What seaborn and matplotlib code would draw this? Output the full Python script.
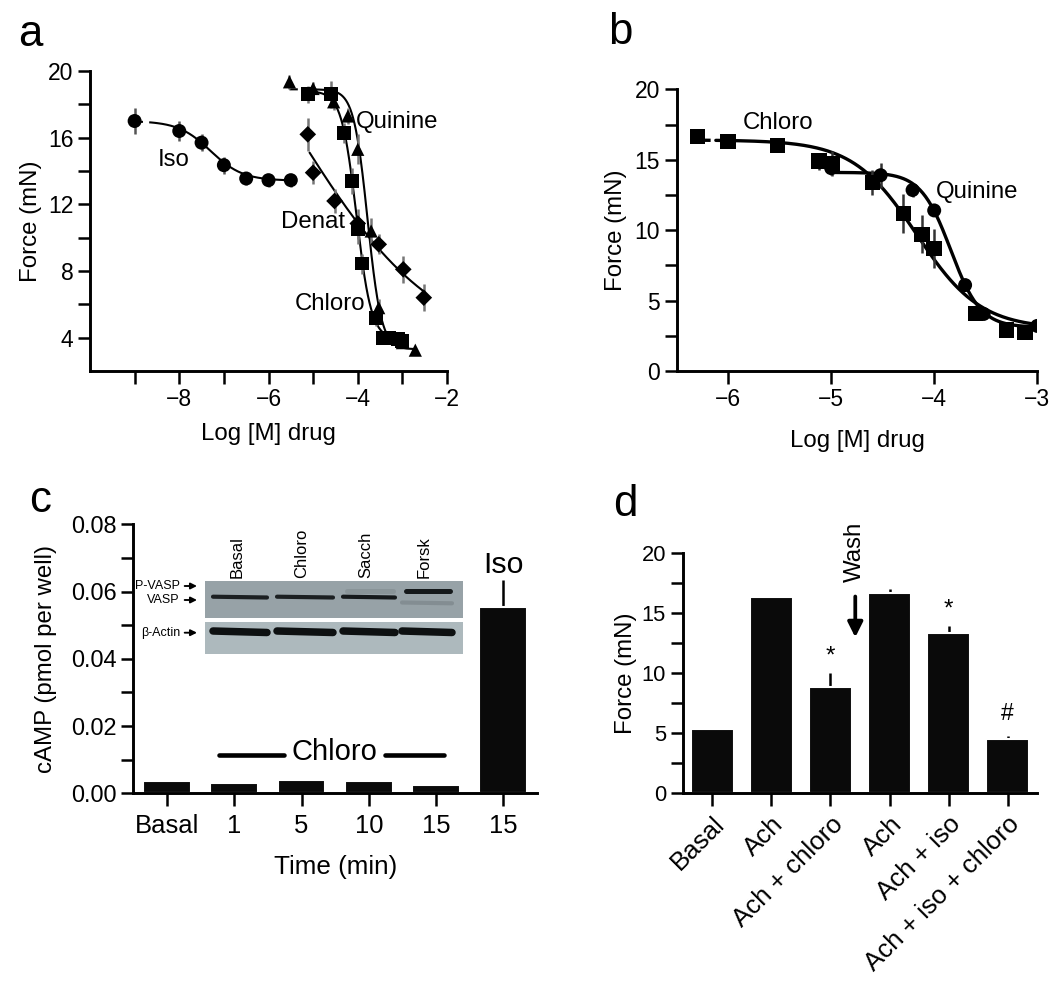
import matplotlib
matplotlib.use('Agg')
import matplotlib.pyplot as plt
import numpy as np
import seaborn as sns
from matplotlib.patches import Rectangle
from matplotlib.ticker import FixedLocator, FormatStrFormatter

# ---- panel a: force vs log concentration ----
iso_x = [-9.0, -8.0, -7.5, -7.0, -6.5, -6.0, -5.5]
iso_y = [17.0, 16.4, 15.7, 14.35, 13.55, 13.45, 13.45]
iso_err = [0.8, 0.6, 0.5, 0.5, 0.4, 0.4, 0.4]
iso_fit = (17.0, 13.42, -7.3, 1.2)          # top, bottom, logEC50, hill

chloro_a_x = [-5.12, -4.6, -4.3, -4.13, -4.0, -3.9, -3.6, -3.43, -3.3, -3.2, -3.1, -3.0]
chloro_a_y = [18.6, 18.6, 16.3, 13.4, 10.5, 8.45, 5.2, 4.0, 4.0, 3.95, 3.9, 3.8]
chloro_a_err = [0.5, 0.8, 0.6, 0.8, 0.9, 0.6, 0.5, 0.4, 0.4, 0.4, 0.4, 0.4]
chloro_a_fit = (18.8, 3.9, -4.03, 2.6)

quinine_a_x = [-5.53, -5.0, -4.54, -4.22, -4.0, -3.7, -3.53, -3.0, -2.71]
quinine_a_y = [19.35, 18.95, 18.15, 17.3, 15.3, 10.4, 5.8, 3.7, 3.25]
quinine_a_err = [0.4, 0.4, 0.5, 0.5, 0.9, 0.8, 0.5, 0.3, 0.2]
quinine_a_fit = (18.9, 3.3, -3.78, 2.8)

denat_x = [-5.12, -5.0, -4.52, -4.0, -3.53, -2.98, -2.52]
denat_y = [16.2, 13.9, 12.2, 10.85, 9.6, 8.1, 6.4]
denat_err = [1.0, 0.7, 0.7, 0.9, 0.6, 0.8, 0.8]
denat_fit = (30.0, 3.0, -5.41, 0.273)

# ---- panel b ----
chloro_b_x = [-6.3, -6.0, -5.52, -5.12, -4.99, -4.6, -4.3, -4.12, -4.0, -3.6, -3.3, -3.12]
chloro_b_y = [16.65, 16.3, 16.0, 14.9, 14.75, 13.4, 11.2, 9.7, 8.7, 4.1, 2.9, 2.75]
chloro_b_err = [0.1, 0.2, 0.2, 0.6, 0.9, 0.9, 1.4, 1.35, 1.4, 0.4, 0.2, 0.2]
chloro_b_fit = (16.4, 3.0, -4.17, 1.4)

quinine_b_x = [-5.0, -4.52, -4.21, -4.0, -3.7, -3.52, -3.0]
quinine_b_y = [14.4, 13.9, 12.85, 11.4, 6.1, 4.05, 3.2]
quinine_b_err = [0.5, 0.9, 0.5, 0.3, 0.3, 0.3, 0.1]
quinine_b_fit = (14.1, 3.1, -3.84, 3.0)

# ---- panel c ----
camp_labels = ['Basal', '1', '5', '10', '15', '15']
camp_values = [0.0036, 0.0031, 0.0040, 0.0037, 0.0025, 0.0555]
camp_err = [0.0, 0.0, 0.0004, 0.0002, 0.0, 0.0079]

blot_lanes = ['Basal', 'Chloro', 'Sacch', 'Forsk']
blot_lane_x = [(213, 267), (277, 333), (343, 395), (402, 452)]
vasp_intensity = [0.95, 0.95, 1.0, 0.15]
pvasp_intensity = [0.0, 0.0, 0.1, 1.0]

# ---- panel d ----
force_labels = ['Basal', 'Ach', 'Ach + chloro', 'Ach', 'Ach + iso', 'Ach + iso + chloro']
force_values = [5.33, 16.33, 8.83, 16.67, 13.36, 4.55]
force_err = [0.05, 0.1, 1.22, 0.38, 0.6, 0.22]
force_marks = {2: '*', 4: '*', 5: '#'}

W, H = 1050, 983
sns.set_style('ticks')
plt.rcParams['font.family'] = ['Liberation Sans', 'DejaVu Sans']
plt.rcParams.update({'axes.linewidth': 1.4, 'axes.edgecolor': 'black',
                     'text.color': 'black', 'axes.labelcolor': 'black',
                     'xtick.color': 'black', 'ytick.color': 'black'})
fig = plt.figure(figsize=(W / 150, H / 150), dpi=150)


def px_axes(left, top, right, bottom):
    return fig.add_axes([left / W, 1 - bottom / H, (right - left) / W, (bottom - top) / H])


def logistic(x, p):
    top, bottom, c, h = p
    return bottom + (top - bottom) / (1 + 10 ** (h * (x - c)))


def style(ax, fs=10.5):
    sns.despine(ax=ax)
    ax.tick_params(which='both', direction='out', length=6, width=1.2,
                   labelsize=fs, pad=2, color='black')


def curve(ax, x0, x1, p, dash_to=None, lw=1.0):
    if dash_to is not None:
        xd = np.linspace(x0, dash_to, 20)
        ax.plot(xd, logistic(xd, p), color='black', lw=lw, ls=(0, (4, 3)))
        x0 = dash_to
    xs = np.linspace(x0, x1, 300)
    ax.plot(xs, logistic(xs, p), color='black', lw=lw)


def points(ax, x, y, err, marker, size, ecolor):
    ax.errorbar(x, y, yerr=err, fmt='none', ecolor=ecolor, elinewidth=1.2, capsize=0, zorder=2)
    sns.scatterplot(x=x, y=y, marker=marker, s=size, color='black', edgecolor='none',
                    ax=ax, zorder=3, legend=False)


# panel a
ax = px_axes(90, 71, 447, 371)
curve(ax, -9.0, -5.5, iso_fit, dash_to=-8.5)
curve(ax, -5.12, -3.0, chloro_a_fit)
curve(ax, -5.53, -2.71, quinine_a_fit, dash_to=-5.12)
curve(ax, -5.08, -2.53, denat_fit)
points(ax, iso_x, iso_y, iso_err, 'o', 45, '#555555')
points(ax, denat_x, denat_y, denat_err, 'D', 32, '#777777')
points(ax, quinine_a_x, quinine_a_y, quinine_a_err, '^', 40, '#777777')
points(ax, chloro_a_x, chloro_a_y, chloro_a_err, 's', 45, '#777777')
ax.set_xlim(-10, -2)
ax.set_ylim(2, 20)
ax.set_xticks([-8, -6, -4, -2])
ax.xaxis.set_minor_locator(FixedLocator([-9, -7, -5, -3]))
ax.set_yticks([4, 8, 12, 16, 20])
ax.yaxis.set_minor_locator(FixedLocator([6, 10, 14, 18]))
style(ax, fs=11)
ax.set_xlabel('Log [M] drug', fontsize=11.5)
ax.set_ylabel('Force (mN)', fontsize=11.5)
ax.xaxis.set_label_coords(0.5, -0.173)
ax.yaxis.set_label_coords(-0.134, 0.5)
for txt, tx, ty in [('Iso', -8.13, 14.67), ('Quinine', -3.11, 16.95),
                    ('Denat', -5.0, 10.96), ('Chloro', -4.61, 5.99)]:
    ax.text(tx, ty, txt, fontsize=11.5, ha='center', va='center')
fig.text(30 / W, 1 - 35 / H, 'a', fontsize=21, ha='center', va='center')

# panel b
ax = px_axes(676.7, 89.3, 1037.2, 371)
curve(ax, -6.3, -3.0, chloro_b_fit, dash_to=-6.12, lw=1.6)
curve(ax, -5.0, -3.0, quinine_b_fit, lw=1.6)
points(ax, quinine_b_x, quinine_b_y, quinine_b_err, 'o', 45, '#333333')
points(ax, chloro_b_x, chloro_b_y, chloro_b_err, 's', 55, '#333333')
ax.set_xlim(-6.5, -3)
ax.set_ylim(0, 20)
ax.set_xticks([-6, -5, -4, -3])
ax.set_yticks([0, 5, 10, 15, 20])
ax.yaxis.set_minor_locator(FixedLocator([2.5, 7.5, 12.5, 17.5]))
style(ax, fs=11)
ax.set_xlabel('Log [M] drug', fontsize=11.5)
ax.set_ylabel('Force (mN)', fontsize=11.5)
ax.xaxis.set_label_coords(0.5, -0.209)
ax.yaxis.set_label_coords(-0.139, 0.5)
ax.text(-5.52, 17.63, 'Chloro', fontsize=11.5, ha='center', va='center')
ax.text(-3.58, 12.73, 'Quinine', fontsize=11.5, ha='center', va='center')
fig.text(620 / W, 1 - 32 / H, 'b', fontsize=21, ha='center', va='center')

# panel c
ax = px_axes(133.3, 524.3, 537, 793.3)
sns.barplot(x=list(range(6)), y=camp_values, color='#0a0a0a', saturation=1,
            width=0.71, errorbar=None, ax=ax, zorder=2)
ax.errorbar(range(6), camp_values, yerr=[[0] * 6, camp_err], fmt='none',
            ecolor='black', elinewidth=1.2, capsize=0, zorder=1)
ax.set_xlim(-0.5, 5.5)
ax.set_ylim(0, 0.08)
ax.set_xticks(range(6))
ax.set_xticklabels(camp_labels)
ax.set_yticks([0, 0.02, 0.04, 0.06, 0.08])
ax.yaxis.set_minor_locator(FixedLocator([0.01, 0.03, 0.05, 0.07]))
ax.yaxis.set_major_formatter(FormatStrFormatter('%.2f'))
style(ax, fs=11.3)
ax.tick_params(axis='x', labelsize=12.3, pad=4)
ax.set_xlabel('Time (min)', fontsize=12.5)
ax.set_ylabel('cAMP (pmol per well)', fontsize=11.5)
ax.xaxis.set_label_coords(0.5, -0.229)
ax.yaxis.set_label_coords(-0.19, 0.5)
ax.plot([0.78, 1.74], [0.0113, 0.0113], color='black', lw=2.2, solid_capstyle='round')
ax.plot([3.24, 4.12], [0.0113, 0.0113], color='black', lw=2.2, solid_capstyle='round')
ax.text(2.49, 0.0124, 'Chloro', fontsize=14, ha='center', va='center')
ax.text(5.0, 0.0679, 'Iso', fontsize=14.5, ha='center', va='center')
fig.text(40 / W, 1 - 500 / H, 'c', fontsize=21, ha='center', va='center')

# western blot inset, drawn in figure pixels
bl = px_axes(150, 560, 470, 660)
bl.set_xlim(150, 470)
bl.set_ylim(660, 560)
bl.axis('off')
bl.add_patch(Rectangle((205, 581), 258, 36.7, color='#97a2a7', lw=0))
bl.add_patch(Rectangle((205, 621.7), 258, 32.6, color='#adb9bd', lw=0))
for name, (x0, x1), vi, pi in zip(blot_lanes, blot_lane_x, vasp_intensity, pvasp_intensity):
    bl.text((x0 + x1) / 2 - 3, 578, name, rotation=90, ha='center', va='bottom', fontsize=8)
    vy = 596.7 if pi < 0.5 else 602.5
    bl.plot([x0, x1], [vy, vy + 0.8], color='#15191b', alpha=vi, lw=2.0, solid_capstyle='round')
    if pi > 0:
        bl.plot([x0 + 4, x1 - 2], [590.5, 590.5], color='#15191b', alpha=pi, lw=2.4,
                solid_capstyle='round')
    bl.plot([x0, x1], [631, 632.5], color='#0d1011', lw=3.6, solid_capstyle='round')
for lab, ly in [('P-VASP', 586), ('VASP', 600), ('β-Actin', 632.7)]:
    bl.annotate(lab, xy=(197, ly), xytext=(180, ly), ha='right', va='center', fontsize=6,
                arrowprops=dict(arrowstyle='-|>', color='black', lw=0.9, shrinkA=0, shrinkB=0,
                                mutation_scale=6))

# panel d
ax = px_axes(682.7, 553.3, 1037.3, 793.3)
sns.barplot(x=list(range(6)), y=force_values, color='#0a0a0a', saturation=1,
            width=0.72, errorbar=None, ax=ax, zorder=2)
ax.errorbar(range(6), force_values, yerr=[[0] * 6, force_err], fmt='none',
            ecolor='black', elinewidth=1.2, capsize=0, zorder=1)
ax.set_xlim(-0.5, 5.5)
ax.set_ylim(0, 20)
ax.set_xticks(range(6))
ax.set_xticklabels(force_labels, rotation=45, ha='right', va='top', rotation_mode='anchor')
ax.set_yticks([0, 5, 10, 15, 20])
ax.yaxis.set_minor_locator(FixedLocator([2.5, 7.5, 12.5, 17.5]))
style(ax, fs=10.5)
ax.tick_params(axis='x', labelsize=12.4, pad=3)
ax.set_ylabel('Force (mN)', fontsize=11.5)
ax.yaxis.set_label_coords(-0.128, 0.5)
for i, m in force_marks.items():
    ax.text(i, force_values[i] + force_err[i] + (0.4 if m == '*' else 0.9), m,
            fontsize=11.5 if m == '*' else 11, ha='center', va='bottom')
ax.annotate('', xy=(2.42, 13.0), xytext=(2.42, 16.4),
            arrowprops=dict(arrowstyle='-|>', color='black', lw=1.8, mutation_scale=15,
                            shrinkA=0, shrinkB=0))
ax.text(2.42, 20.1, 'Wash', rotation=90, fontsize=11.5, ha='center', va='center', clip_on=False)
fig.text(625 / W, 1 - 505 / H, 'd', fontsize=21, ha='center', va='center')

fig.savefig('out.png', dpi=150)
